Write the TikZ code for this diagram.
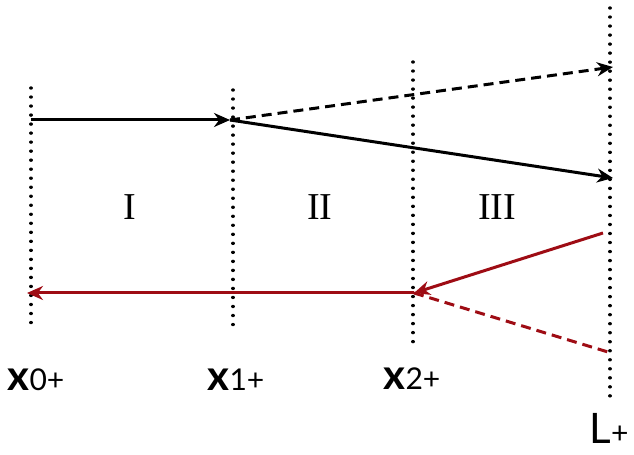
\documentclass[tikz,border=0pt]{standalone}
\usepackage{fontspec}
\setmainfont{Liberation Serif}
\newfontfamily\labelfont{Lato}
\usetikzlibrary{arrows.meta}
\definecolor{wavered}{RGB}{158,12,20}

\begin{document}
\begin{tikzpicture}[x=0.5pt,y=-0.5pt]
  \useasboundingbox (0,0) rectangle (634,455);
  \tikzstyle{Border}=[black,line width=1.7pt,dash pattern=on 0.01pt off 4.5pt,line cap=round]
  \tikzstyle{Ray}=[line width=1.5pt,-{Stealth[length=8pt,width=7pt]}]
  \tikzstyle{Dash}=[dash pattern=on 5pt off 3pt]
  \tikzstyle{PosLabel}=[font=\labelfont\bfseries\fontsize{21}{21}\selectfont,inner sep=0pt]
  \tikzstyle{Region}=[font=\fontsize{19}{19}\selectfont,inner sep=0pt]
  % boundaries
  \coordinate (T0) at (31,88);   \coordinate (B0) at (31,324);
  \coordinate (T1) at (233,90);  \coordinate (B1) at (233,326);
  \coordinate (T2) at (413,62);  \coordinate (B2) at (413,345);
  \coordinate (TL) at (610,8);   \coordinate (BL) at (610,402);
  \draw[Border] (T0) -- (B0);
  \draw[Border] (T1) -- (B1);
  \draw[Border] (T2) -- (B2);
  \draw[Border] (TL) -- (BL);
  \node[PosLabel] (X0) at (36,380) {x\mdseries\fontsize{15}{15}\selectfont 0+};
  \node[PosLabel] (X1) at (236,380) {x\mdseries\fontsize{15}{15}\selectfont 1+};
  \node[PosLabel] (X2) at (412,379) {x\mdseries\fontsize{15}{15}\selectfont 2+};
  \node[PosLabel] (L) at (609,428) {\mdseries L\fontsize{15}{15}\selectfont +};
  \node[Region] (I) at (130,207) {I};
  \node[Region] (II) at (320,207) {II};
  \node[Region] (III) at (497,207) {III};
  % incoming wave
  \coordinate (In) at (31,120);
  \coordinate (Hit1) at (230,120);
  \coordinate (Up) at (613,67);
  \coordinate (Down) at (613,178);
  \draw[Ray] (In) -- (Hit1);
  \draw[Ray,Dash] (Hit1) -- (Up);
  \draw[Ray] (Hit1) -- (Down);
  % returning wave
  \coordinate (Back) at (603,233);
  \coordinate (Hit2) at (414,293);
  \coordinate (Out) at (27,293);
  \coordinate (Lost) at (608,352);
  \draw[Ray,wavered] (Back) -- (Hit2);
  \draw[Ray,wavered] (Hit2) -- (Out);
  \draw[Ray,wavered,Dash,-] (Hit2) -- (Lost);
\end{tikzpicture}
\end{document}
